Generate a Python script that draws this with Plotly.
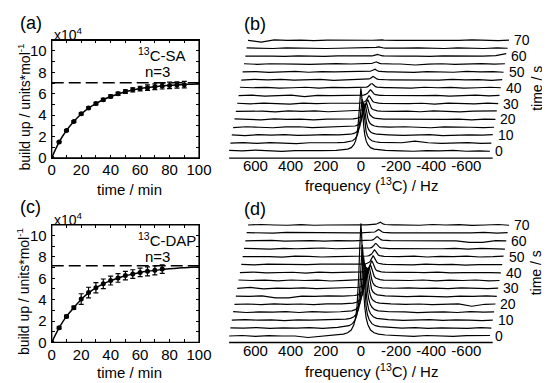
import plotly.graph_objects as go

W, H = 550, 383
FONT = "Liberation Sans, Arial, sans-serif"

# ---------------- build-up data ----------------
time_a = [0, 5, 10, 15, 20, 25, 30, 35, 40, 45, 50, 55, 60, 65, 70, 75, 80, 85, 90]
build_a = [0, 1.47, 2.55, 3.4, 4.12, 4.67, 5.08, 5.44, 5.75, 5.99, 6.2, 6.36, 6.48, 6.57, 6.66, 6.72, 6.78, 6.82, 6.85]
err_a = [0, 0.06, 0.08, 0.08, 0.1, 0.1, 0.12, 0.12, 0.14, 0.15, 0.17, 0.2, 0.22, 0.25, 0.27, 0.28, 0.3, 0.3, 0.3]

time_c = [0, 5, 10, 15, 20, 25, 30, 35, 40, 45, 50, 55, 60, 65, 70, 75]
build_c = [0, 1.36, 2.43, 3.25, 4.05, 4.66, 5.11, 5.48, 5.79, 6.03, 6.25, 6.4, 6.55, 6.65, 6.74, 6.86]
err_c = [0, 0.1, 0.12, 0.15, 0.5, 0.5, 0.48, 0.45, 0.42, 0.4, 0.4, 0.4, 0.4, 0.42, 0.42, 0.4]

fit_time = [0, 5, 10, 15, 20, 25, 30, 35, 40, 45, 50, 55, 60, 65, 70, 75, 80, 85, 90, 95, 100]
fit_a = [0, 1.47, 2.56, 3.4, 4.1, 4.66, 5.08, 5.44, 5.74, 5.98, 6.19, 6.35, 6.48, 6.58, 6.66, 6.73, 6.79, 6.83, 6.86, 6.89, 6.91]
fit_c = [0, 1.36, 2.43, 3.25, 4.02, 4.63, 5.1, 5.47, 5.78, 6.03, 6.24, 6.4, 6.54, 6.65, 6.74, 6.82, 6.89, 6.95, 6.99, 7.03, 7.06]
plateau_a = 7.02
plateau_c = 7.17

x_ticks_min = [0, 20, 40, 60, 80, 100]
y_ticks = [0, 2, 4, 6, 8, 10]

# ---------------- spectra data ----------------
spec_time_s = [0, 5, 10, 15, 20, 25, 30, 35, 40, 45, 50, 55, 60, 65, 70]
time_labels = [0, 10, 20, 30, 40, 50, 60, 70]
freq_ticks = [600, 400, 200, 0, -200, -400, -600]
freq_ticktext = ["600", "400", "200", "0", "-200", "-400", "-600"]

hz_base_left = [750, 675, 600, 525, 450, 375, 300, 225]
hz_base_right = [-225, -300, -375, -450, -525, -600, -675, -735]
hz_peak = [140, 100, 75, 55, 40, 30, 22, 16, 12, 8, 4, 0,
           -4, -8, -12, -16, -22, -30, -40, -55, -75, -100, -140]
peak_shape = [0.009, 0.017, 0.029, 0.053, 0.10, 0.16, 0.26, 0.40, 0.54, 0.72, 0.91, 1.0,
              0.91, 0.72, 0.54, 0.40, 0.26, 0.16, 0.10, 0.053, 0.029, 0.017, 0.009]

heights_b = [64, 45, 33, 24, 17, 12, 8, 6, 4.5, 3.5, 3, 2.5, 2, 1.5, 1]
heights_d = [115, 85, 65, 50, 38, 29, 22, 16, 12, 9, 7, 5.5, 4.5, 3.5, 3]

wiggle_b = [
    [0.5, 0, 0.8, 0, -0.5, 0.3, 0, 0.3, 0, -0.3, 0.3, 0, 0.5, -0.3, 0, -0.3],
    [0, 0.5, -0.3, 0.5, 0, -0.5, 0.3, 0, 0.3, 2.0, 0.3, -0.3, 0, 0.5, -0.3, 0],
    [0.3, -0.5, 0.5, 0, 0.5, -0.3, 0, 0.5, -0.3, 0, 0.5, -0.5, 0, 0.3, 0, 0.5],
    [-0.3, 0.5, 0, -0.5, 0.3, 0.5, -0.3, 0, 0.5, 0, -0.5, 0.3, 0.5, 0, -0.3, 0],
    [0.5, 0, -0.5, 0.5, 0, 0.3, -0.5, 0.3, 0, 0.5, -0.3, 0, 0.3, -0.5, 0.3, 0],
    [0, 0.5, 0.3, -0.5, 0.5, 0, 0.5, -0.3, 0.3, -0.3, 0.5, 0, -0.5, 0.3, 0, 0.5],
    [0.3, -0.3, 0.5, 0, -0.5, 0.5, 0, 0.3, 0, 0.3, -0.5, 0.5, 0, -0.3, 0.5, 0],
    [0, 0.5, -0.5, 0.3, 0.5, -1.0, 0.3, 0, 0.5, 0, 0.3, -0.5, 0, 0.5, -0.3, 0.3],
    [0.5, 0, 0.3, -0.3, 0, 0.5, -0.3, 0.3, -0.3, 0.5, 0, 0.3, -0.3, 0, 0.5, 0],
    [-0.3, 0.5, 0, 0.5, -0.3, 0, 0.5, -0.5, 0.3, 0, -0.3, 0.5, 0, 0.3, -0.5, 0.3],
    [0, 0.3, -0.5, 0, 0.5, -0.3, 0.3, 0, -0.5, 0.3, 0, -0.3, 0.5, 0, 0.3, -0.3],
    [0.3, -0.3, 0.3, 0.5, 0, -0.3, 0, 0.5, -1.0, 0, 0.3, -0.3, 0, 0.5, 0, 0.3],
    [0, 0.3, 0, -0.3, 0.3, 0, -0.3, 0.3, 0, -0.3, 0.3, 0, -0.3, 0, 0.5, 2.5],
    [0.3, 0, -0.3, 0.3, 0, 0.3, -0.3, 0, 0.3, 0, -0.3, 0.3, 0, -0.3, 0.3, 0],
    [0, -1.8, 0.5, 0, 0.3, -0.3, 0.3, 0, 0, 0.3, -0.3, 0, 0.5, 0, -0.3, 0.3],
]
wiggle_d = [
    [0, 0.5, -0.3, 0.3, 0, 0, -1.5, 0, 0.3, -0.3, 0.5, 0, -0.3, 0.3, 0, 0.5],
    [0.3, 0, 0.5, -0.3, 0.3, 0, 0.5, -0.3, 0, 0.5, -0.3, 0.3, 0, -0.3, 0.5, 0],
    [0, 0.5, 0, 0.3, -0.5, 0.3, 0, 0.3, -0.3, 0, 0.5, -0.3, 0.3, 0, -0.5, 0],
    [0.5, -0.3, 0.3, 0, 0.5, -0.3, 0.5, 0, 0.3, -0.5, 0, 0.3, -0.3, 0.5, 0, 0.3],
    [0, 0.3, -0.3, 0.5, 0, 0.3, -0.3, 0.5, 0, 0.3, -0.3, 0, 0.5, -2.0, 0, 0.3],
    [0.3, 0, 0.5, -1.5, -1.5, 0.3, 0, 0.5, -0.3, 0.3, 0, -0.5, 0.3, 0, 0.5, 0],
    [0, 1.0, -0.5, 0.3, 0, 0.5, -0.3, 0, 0.5, 0, 0.3, -0.3, 0.5, 0, -0.3, 0.3],
    [0.5, 0, 0.3, -0.3, 0.5, 0, 0.3, -0.5, 0, 0.5, -0.3, 0.3, 0, 0.5, -0.3, 0],
    [0, 0.5, -0.3, 0, 0.3, -0.5, 0.5, 0, 0.3, 0, 0.5, -0.3, 0, 0.3, 0, -0.3],
    [0.3, -0.3, 0.5, 0.3, -0.3, 0, 0.5, 0.3, -0.3, 0.5, 0, 0.3, -0.5, 0, 0.3, 0],
    [0, 0.3, 0, -0.5, 0.5, 0.3, -0.3, 0, 0.5, -0.3, 0.3, 0, 0.5, -0.3, 0, 0.5],
    [0.5, 0, -0.3, 0.3, 0, 0.5, 0.8, 0, -0.3, 0.3, 0, 0.5, -0.3, 0.3, 0, -0.3],
    [0, 0.3, 0.5, -0.3, 0, 0.3, -0.3, 0.3, 0, 0.5, -0.3, 0, -1.5, -1.5, 0.3, 0],
    [0.3, 0, -0.3, 0.5, 0.3, 0, 0.3, -0.3, 0.5, 0, 0.3, -0.3, 0, 0.5, -0.3, 0.3],
    [0, 0.5, 0, -0.3, 0.3, -0.3, 0, 0.3, -0.3, 0.5, 0, 0.3, -0.5, 0, 0.5, -0.3],
]


# ---------------- helpers ----------------
def px(x):
    return x / W


def py(y):
    return 1 - y / H


fig = go.Figure()
annotations = []
shapes = []


def paper_text(x, y, text, size, xanchor="center", angle=0):
    return dict(x=px(x), y=py(y), xref="paper", yref="paper", text=text, showarrow=False,
                xanchor=xanchor, yanchor="middle", textangle=angle,
                font=dict(family=FONT, size=size, color="black"))


# ---------------- build-up panels ----------------
def buildup_panel(ax, t, y, e, fit, plateau, top_px, bottom_px, label, tag, title_y):
    xa = "x" if ax == 1 else f"x{ax}"
    ya = "y" if ax == 1 else f"y{ax}"
    fig.add_trace(go.Scatter(x=[fit_time[0], fit_time[-1]], y=[plateau, plateau], mode="lines",
                             line=dict(color="black", width=1.4, dash="12px,5px"),
                             xaxis=xa, yaxis=ya, showlegend=False, hoverinfo="skip"))
    fig.add_trace(go.Scatter(x=fit_time, y=fit, mode="lines", line=dict(color="black", width=1.5, shape="spline"),
                             xaxis=xa, yaxis=ya, showlegend=False))
    fig.add_trace(go.Scatter(x=t, y=y, mode="markers", marker=dict(color="black", size=5),
                             error_y=dict(type="data", array=e, color="black", thickness=1.2, width=2.5),
                             xaxis=xa, yaxis=ya, showlegend=False))
    common = dict(showline=True, linecolor="black", linewidth=1.3, mirror="ticks", ticks="inside",
                  ticklen=3, tickwidth=1, tickcolor="black", showgrid=False, zeroline=False,
                  tickfont=dict(family=FONT, size=15, color="black"))
    fig.update_layout(**{
        ("xaxis" if ax == 1 else f"xaxis{ax}"): dict(
            domain=[px(41), px(193)], range=[0, 100], tickvals=x_ticks_min, anchor=ya,
            ticklabelstandoff=-2,
            minor=dict(dtick=10, ticks="inside", ticklen=3, tickcolor="black"), **common),
        ("yaxis" if ax == 1 else f"yaxis{ax}"): dict(
            domain=[py(bottom_px), py(top_px)], range=[0, 11], tickvals=y_ticks, anchor=xa,
            ticklabelstandoff=1,
            minor=dict(dtick=1, ticks="inside", ticklen=3, tickcolor="black"), **common),
    })
    shapes.append(dict(type="rect", xref=f"{xa} domain", yref=f"{ya} domain", x0=0, x1=1, y0=0, y1=1,
                       line=dict(color="black", width=1.3), fillcolor="rgba(0,0,0,0)", layer="above"))
    annotations.extend([
        paper_text(6, top_px - 18, label, 18, "left"),
        paper_text(41, top_px - 6, "x10<sup>4</sup>", 14, "left"),
        paper_text(128, top_px + 15, tag, 15, "left"),
        paper_text(150, top_px + 32, "n=3", 15),
        paper_text(12, top_px + 68, "build up / units*mol<sup>-1</sup>", 14, angle=-90),
        paper_text(121, title_y, "time / min", 15),
    ])


buildup_panel(1, time_a, build_a, err_a, fit_a, plateau_a, 33, 153, "(a)", "<sup>13</sup>C-SA", 185)
buildup_panel(2, time_c, build_c, err_c, fit_c, plateau_c, 221.5, 341.5, "(c)", "<sup>13</sup>C-DAP", 372)

# ---------------- waterfall panels ----------------
PX_PER_HZ = 272 / 1500.0
SHIFT_HZ = 7.7


def waterfall_panel(ax, heights, wiggles, axis_px, top_px, base0, spacing, label, title_y):
    xa, ya = f"x{ax}", f"y{ax}"
    left_px, right_px = 224, 522
    x_left = 750
    x_right = 750 - (right_px - left_px) / PX_PER_HZ
    for k in range(len(spec_time_s)):
        off = base0 + spacing * k
        wl, wr = wiggles[k][:8], wiggles[k][8:]
        xs = [f - SHIFT_HZ * k for f in hz_base_left + hz_peak + hz_base_right]
        ys = ([off + w for w in wl] + [off + heights[k] * s for s in peak_shape] + [off + w for w in wr])
        fig.add_trace(go.Scatter(x=xs, y=ys, mode="lines", line=dict(color="black", width=1.2),
                                 xaxis=xa, yaxis=ya, showlegend=False))
        if spec_time_s[k] in time_labels:
            annotations.append(dict(x=hz_base_right[-1] - SHIFT_HZ * k, y=off, xref=xa, yref=ya,
                                    text=str(spec_time_s[k]), showarrow=False, xanchor="left",
                                    yanchor="middle", xshift=3,
                                    font=dict(family=FONT, size=14, color="black")))
    fig.update_layout(**{
        f"xaxis{ax}": dict(domain=[px(left_px), px(right_px)], range=[x_left, x_right], anchor=ya,
                           tickvals=freq_ticks, ticktext=freq_ticktext, showline=False, showgrid=False,
                           zeroline=False, ticks="", ticklabelstandoff=-3,
                           tickfont=dict(family=FONT, size=15, color="black")),
        f"yaxis{ax}": dict(domain=[py(axis_px), py(top_px)], range=[0, axis_px - top_px], anchor=xa,
                           visible=False),
    })
    shapes.append(dict(type="line", xref=xa, yref=f"{ya} domain", x0=750, x1=-750, y0=0, y1=0,
                       line=dict(color="black", width=1.4)))
    annotations.extend([
        paper_text(237, top_px - 2, label, 18, "left"),
        paper_text(371, title_y, "frequency (<sup>13</sup>C) / Hz", 15),
        paper_text(541, axis_px - 71, "time / s", 14, angle=-90),
    ])


waterfall_panel(3, heights_b, wiggle_b, 153.3, 18, 7.3, 8.07, "(b)", 180)
waterfall_panel(4, heights_d, wiggle_d, 341.7, 207, 6.7, 8.1, "(d)", 370)

fig.update_layout(width=W, height=H, margin=dict(l=0, r=0, t=0, b=0),
                  paper_bgcolor="white", plot_bgcolor="white",
                  annotations=annotations, shapes=shapes,
                  font=dict(family=FONT, color="black"))

fig.write_html("out.html")
